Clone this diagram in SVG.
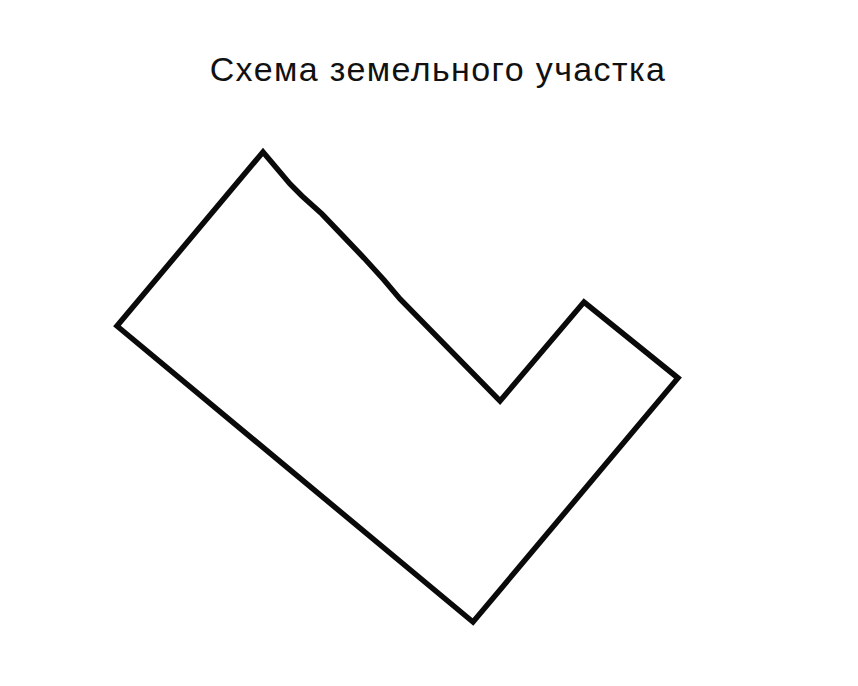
<svg xmlns="http://www.w3.org/2000/svg" width="858" height="686" viewBox="0 0 858 686">
<style>
.title{font-family:"Liberation Sans",Arial,sans-serif;font-size:34px;letter-spacing:1.4px;fill:#111}
.plot{fill:none;stroke:#0a0a0a;stroke-width:5.5;stroke-linejoin:miter;stroke-linecap:round}
</style>
<rect width="858" height="686" fill="#fff"/>
<text class="title" x="438" y="81" text-anchor="middle">Схема земельного участка</text>
<g id="plot">
<path class="plot" d="M263,152 L290,184 L302,196 L322,214 L343,236 L364,258 L384,280 L400,299 L500,401 L584,302 L678,378 L473,622 L117,326 Z"/>
</g>
</svg>
